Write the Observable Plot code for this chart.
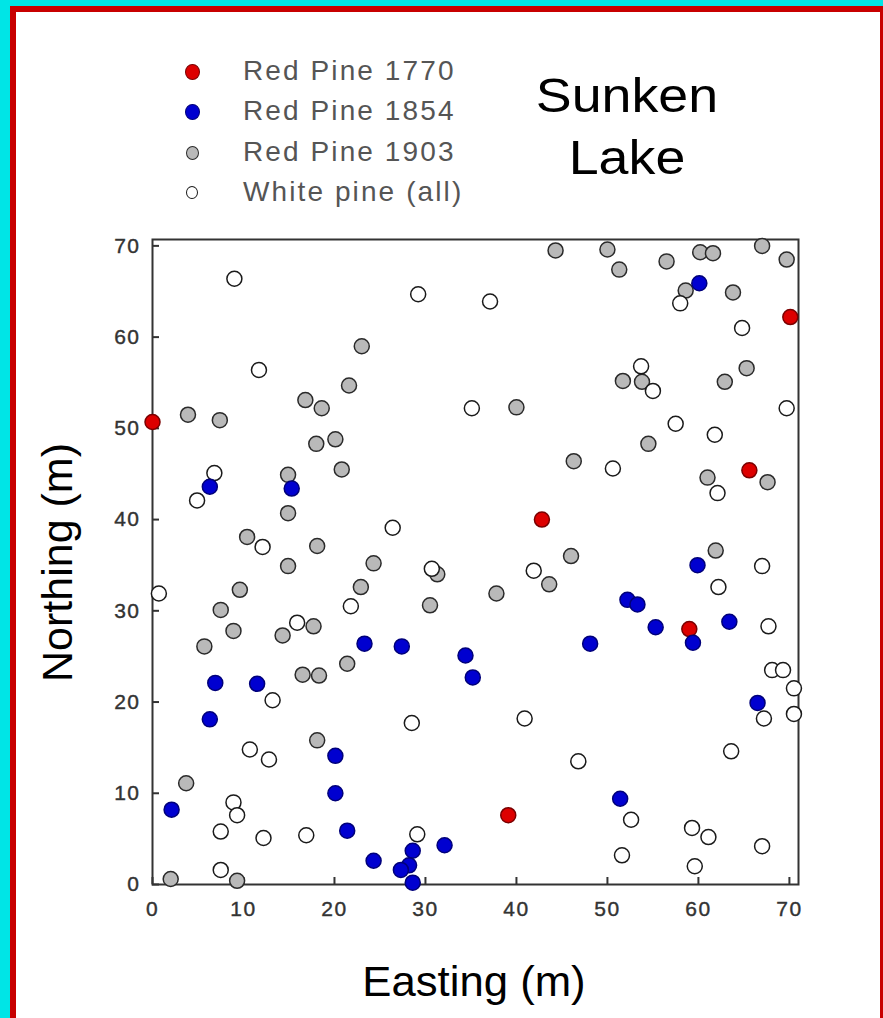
<!DOCTYPE html>
<html>
<head>
<meta charset="utf-8">
<script src="https://cdn.jsdelivr.net/npm/d3@7"></script>
<script src="https://cdn.jsdelivr.net/npm/@observablehq/plot@0.6"></script>
<style>
  html, body { margin: 0; padding: 0; }
  body { width: 883px; height: 1018px; overflow: hidden; }
  #page { position: relative; width: 883px; height: 1018px; background: #00e5e6; overflow: hidden;
          font-family: "Liberation Sans", Arial, sans-serif; }
  #frame { position: absolute; left: 10px; top: 6px; width: 873px; height: 1030px; box-sizing: border-box;
           border-left: 6px solid #c80000; border-top: 6px solid #c80000; border-right: 3px solid #c80000; background: #fff; }
  .t { position: absolute; white-space: nowrap; }
  .leg { font-size: 28px; line-height: 28px; color: #555; left: 243px; letter-spacing: 2.1px; }
  .sw { position: absolute; border-radius: 50%; box-sizing: border-box; }
  #chart { position: absolute; left: 0; top: 220px; }
  #chart svg text { font-size: 21px; fill: #333; stroke: #333; stroke-width: 0.4px; }
</style>
</head>
<body>
<div id="page">
  <div id="frame"></div>
  <div id="chart"></div>
</div>
<script>
// ---- data (Easting m, Northing m) ----
const redPine1770 = [[0,50.7],[70.1,62.2],[65.6,45.4],[42.8,40.0],[59.0,28.0],[39.1,7.6]];
const redPine1854 = [
  [60.1,65.9],[6.3,43.6],[15.3,43.4],[59.9,35.0],[52.2,31.2],[53.3,30.7],[55.3,28.2],[63.4,28.8],
  [59.4,26.5],[48.1,26.4],[23.3,26.4],[27.4,26.1],[34.4,25.1],[35.2,22.7],[6.9,22.1],[11.5,22.0],
  [6.3,18.1],[66.5,19.9],[20.1,14.1],[20.1,10.0],[2.1,8.2],[21.4,5.9],[51.4,9.4],[32.1,4.3],
  [24.3,2.6],[28.6,3.7],[28.2,2.1],[27.3,1.6],[28.6,0.2]
];
const redPine1903 = [
  [3.9,51.5],[7.4,50.9],[23.0,59.0],[21.6,54.7],[16.8,53.1],[18.6,52.2],[18.0,48.3],[20.1,48.8],
  [20.8,45.5],[14.9,44.9],[14.9,40.7],[10.4,38.1],[18.1,37.1],
  [44.3,69.5],[50.0,69.6],[51.3,67.4],[56.5,68.3],[60.2,69.3],[61.6,69.2],[67.0,70.0],[69.7,68.5],
  [58.6,65.1],[63.8,64.9],[51.7,55.2],[53.8,55.1],[62.9,55.1],[65.3,56.6],[40.0,52.3],[54.5,48.3],
  [46.3,46.4],[61.0,44.6],[67.6,44.1],[46.0,36.0],[61.9,36.6],
  [14.9,34.9],[24.3,35.2],[31.3,34.0],[9.6,32.3],[22.9,32.6],[7.5,30.1],[30.5,30.6],[8.9,27.8],
  [14.3,27.3],[17.7,28.3],[5.7,26.1],[21.4,24.2],[16.5,23.0],[18.3,22.9],[18.1,15.8],[3.7,11.1],
  [2.0,0.6],[9.3,0.4],[43.6,32.9],[37.8,31.9]
];
const whitePine = [
  [9.0,66.4],[29.2,64.7],[11.7,56.4],[6.8,45.1],[4.9,42.1],[12.1,37.0],[26.4,39.1],
  [37.1,63.9],[58.0,63.7],[64.8,61.0],[53.7,56.8],[55.0,54.1],[35.1,52.2],[69.7,52.2],[57.5,50.5],
  [61.8,49.3],[50.6,45.6],[62.1,42.9],
  [0.7,31.9],[30.7,34.6],[21.8,30.5],[15.9,28.7],[13.2,20.2],[28.5,17.7],[10.7,14.8],[12.8,13.7],
  [8.9,9.0],[9.3,7.6],[7.5,5.8],[12.2,5.1],[16.9,5.4],[29.1,5.5],[7.5,1.6],
  [41.9,34.4],[67.0,34.9],[62.2,32.6],[67.7,28.3],[68.1,23.5],[69.3,23.5],[70.5,21.5],[70.5,18.7],
  [67.2,18.2],[40.9,18.2],[63.6,14.6],[46.8,13.5],[52.6,7.1],[59.3,6.2],[61.1,5.2],[67.0,4.2],
  [51.6,3.2],[59.6,2.0]
];
const xTicks = [0,10,20,30,40,50,60,70];
const yTicks = [0,10,20,30,40,50,60,70];
const legendLabels = ["Red Pine 1770","Red Pine 1854","Red Pine 1903","White pine (all)"];
const titleLines = ["Sunken","Lake"];
const xLabel = "Easting (m)";
const yLabel = "Northing (m)";

// ---- styles ----
const styles = [
  {fill:"#dd0000", stroke:"#7a0000"},
  {fill:"#0000d0", stroke:"#00007a"},
  {fill:"#b9b9b9", stroke:"#2a2a2a"},
  {fill:"#ffffff", stroke:"#1a1a1a"}
];

const page = document.getElementById("page");

// legend
const legY = [71, 111, 152, 192];
const swR = [7.5, 7.5, 6.5, 6];
legendLabels.forEach((lab, i) => {
  const d = document.createElement("div");
  d.className = "t leg";
  d.style.top = (legY[i] - 14) + "px";
  d.textContent = lab;
  page.appendChild(d);
  const s = document.createElement("div");
  s.className = "sw";
  const r = swR[i];
  s.style.width = (2*r) + "px"; s.style.height = (2*r+1) + "px";
  s.style.left = (192 - r) + "px"; s.style.top = (legY[i] - r) + "px";
  s.style.background = styles[i].fill;
  s.style.border = "1.5px solid " + styles[i].stroke;
  page.appendChild(s);
});

// title
[[titleLines[0], 95.5], [titleLines[1], 157.5]].forEach(([txt, cy]) => {
  const d = document.createElement("div");
  d.className = "t";
  d.style.fontSize = "48px"; d.style.lineHeight = "48px"; d.style.color = "#000";
  d.style.width = "300px"; d.style.textAlign = "center";
  d.style.left = (627 - 150) + "px";
  d.style.top = (cy - 23.5) + "px";
  d.style.transform = "scaleX(1.12)";
  d.textContent = txt;
  page.appendChild(d);
});

// axis titles
{
  const d = document.createElement("div");
  d.className = "t";
  d.style.fontSize = "42px"; d.style.lineHeight = "42px"; d.style.color = "#000";
  d.style.width = "400px"; d.style.textAlign = "center";
  d.style.left = (474 - 200) + "px"; d.style.top = (982 - 20.6) + "px";
  d.style.transform = "scaleX(1.04)";
  d.textContent = xLabel;
  page.appendChild(d);
  const e = document.createElement("div");
  e.className = "t";
  e.style.fontSize = "43px"; e.style.lineHeight = "43px"; e.style.color = "#000";
  e.style.width = "400px"; e.style.textAlign = "center";
  e.style.left = (57 - 200) + "px"; e.style.top = (562 - 21.5) + "px";
  e.style.transform = "rotate(-90deg)";
  e.style.transformOrigin = "50% 50%";
  e.textContent = yLabel;
  page.appendChild(e);
}

// chart
const W = 883, H = 798;
const mL = 152, mR = 85, mT = 19, mB = 134;
const fw = W - mL - mR, fh = H - mT - mB;
const tickLen = 7;
const dotOpts = (s) => ({x: d => d[0], y: d => d[1], r: 7.5, fill: s.fill, stroke: s.stroke, strokeWidth: 1.5});

const chart = Plot.plot({
  width: W, height: H,
  marginLeft: mL, marginRight: mR, marginTop: mT, marginBottom: mB,
  x: {domain: [0, 71]},
  y: {domain: [0, 70.7]},
  style: {background: "transparent", fontFamily: "'Liberation Sans', Arial, sans-serif", fontSize: "21px", color: "#333", overflow: "visible", letterSpacing: "1.5px"},
  marks: [
    Plot.frame({stroke: "#333", strokeWidth: 2}),
    Plot.tickX(xTicks, {x: d => d, insetTop: fh - tickLen, stroke: "#333", strokeWidth: 2}),
    Plot.tickY(yTicks, {y: d => d, insetRight: fw - tickLen, stroke: "#333", strokeWidth: 2}),
    Plot.axisX({ticks: xTicks, tickSize: 0, tickPadding: 17, fontSize: 21, label: null, tickFormat: d => String(d)}),
    Plot.axisY({ticks: yTicks, tickSize: 0, tickPadding: 12, fontSize: 21, label: null, tickFormat: d => String(d)}),
    Plot.dot(redPine1903, dotOpts(styles[2])),
    Plot.dot(whitePine, dotOpts(styles[3])),
    Plot.dot(redPine1770, dotOpts(styles[0])),
    Plot.dot(redPine1854, dotOpts(styles[1]))
  ]
});
document.getElementById("chart").appendChild(chart);
</script>
</body>
</html>
